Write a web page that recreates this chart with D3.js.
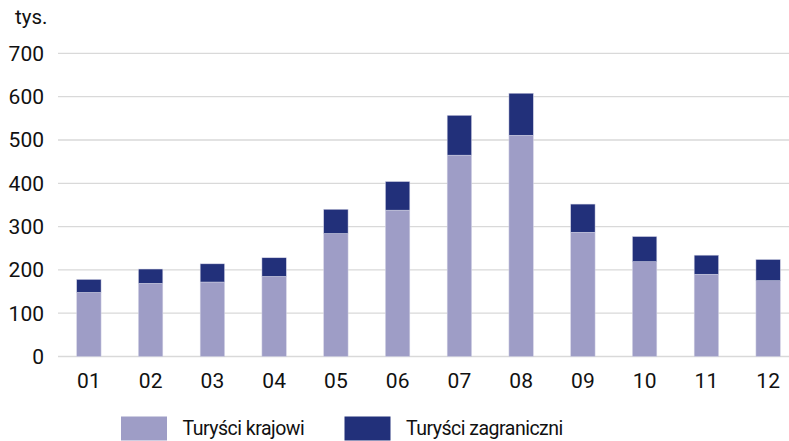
<!DOCTYPE html>
<html><head><meta charset="utf-8">
<script src="https://cdn.jsdelivr.net/npm/d3@7"></script>
<style>body{margin:0;background:#fff;}svg{display:block;font-family:Roboto,sans-serif;}</style>
</head><body>
<svg id="c" width="789" height="441"></svg>
<script>
const months = ["01","02","03","04","05","06","07","08","09","10","11","12"];
const domestic = [148,169,172,185,284,338,465,511,287,219,190,175];
const foreign = [30,33,42,43,56,66,92,97,65,58,44,49];
const yTicks = [0,100,200,300,400,500,600,700];
const seriesNames = ["Turyści krajowi","Turyści zagraniczni"];
const colors = ["#9e9dc6","#22307a"];
const FONT = "Roboto, sans-serif";
const TXT = "#111";

const svg = d3.select("#c");
const x = d3.scaleBand().domain(months).range([58, 799]).paddingInner(0.605).paddingOuter(0.3025);
const y = d3.scaleLinear().domain([0,700]).range([356.5, 53.4]);

// gridlines
svg.append("g").selectAll("line").data(yTicks).join("line")
  .attr("x1",58).attr("x2",789)
  .attr("y1",d=>y(d)).attr("y2",d=>y(d))
  .attr("stroke","#d9d9d9").attr("stroke-width",1.3);

// y axis labels
const yAxis = d3.axisLeft(y).tickValues(yTicks).tickSize(0).tickPadding(0);
const yg = svg.append("g").attr("transform","translate(44,0)").call(yAxis)
  .attr("font-family",FONT).attr("font-size",21);
yg.select(".domain").remove();
yg.selectAll("text").attr("fill",TXT).attr("dy",0).attr("y",6.8);

svg.append("text").attr("x",15).attr("y",23.5).attr("font-family",FONT).attr("font-size",20.5).attr("fill",TXT).text("tys.");

// stacked bars
const rows = months.map((m,i)=>({m, d:domestic[i], f:foreign[i]}));
const stack = d3.stack().keys(["d","f"])(rows);
stack.forEach((s,si)=>{
  svg.append("g").selectAll("rect").data(s).join("rect")
    .attr("x",d=>x(d.data.m)).attr("width",x.bandwidth())
    .attr("y",d=>y(d[1])).attr("height",d=>y(d[0])-y(d[1]))
    .attr("fill",colors[si]).attr("stroke","#d4d4e6").attr("stroke-width",0.5);
});

// x axis labels
const xAxis = d3.axisBottom(x).tickSize(0).tickPadding(0);
const xg = svg.append("g").call(xAxis).attr("font-family",FONT).attr("font-size",21);
xg.select(".domain").remove();
xg.selectAll("text").attr("fill",TXT).attr("dy",0).attr("y",388);

// legend
const leg = [{x:121,tx:182.5},{x:344.5,tx:406}];
seriesNames.forEach((n,i)=>{
  svg.append("rect").attr("x",leg[i].x).attr("y",416.5).attr("width",46).attr("height",24).attr("fill",colors[i]);
  svg.append("text").attr("x",leg[i].tx).attr("y",435).attr("font-family",FONT).attr("font-size",19.5).attr("letter-spacing",-0.5).attr("fill",TXT).text(n);
});
</script>
</body></html>
